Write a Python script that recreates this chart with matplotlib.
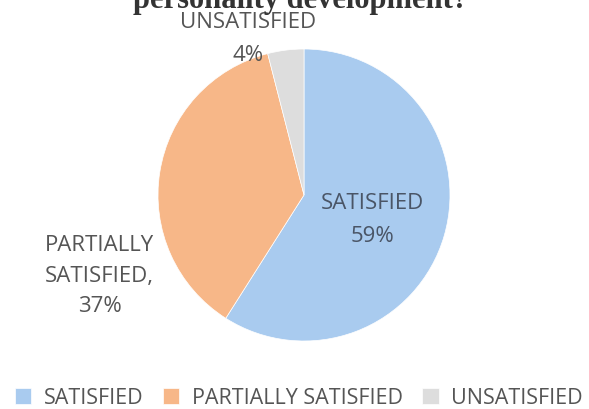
import matplotlib
matplotlib.use('Agg')
import matplotlib.pyplot as plt

# survey answers
categories = ['SATISFIED', 'PARTIALLY SATISFIED', 'UNSATISFIED']
shares = [59, 37, 4]
colors = ['#a9cbef', '#f7b788', '#dddddd']
title_line = 'personality development?'

plt.rcParams['font.family'] = ['Open Sans', 'DejaVu Sans']
text_color = '#555555'

fig = plt.figure(figsize=(5.89, 4.10), dpi=100)

# pie axes: centre at ~(304, 196) px, radius ~146 px
cx, cy, r = 304, 196, 146
ax = fig.add_axes([(cx - r) / 589, (410 - cy - r) / 410, 2 * r / 589, 2 * r / 410])
wedges, _ = ax.pie(shares, colors=colors, startangle=90, counterclock=False,
                   wedgeprops=dict(linewidth=0.5, edgecolor='white'))
ax.set_xlim(-1, 1)
ax.set_ylim(-1, 1)

# data labels, placed like the Excel original
ax.text(0.47, -0.165, f'{categories[0]}\n{shares[0]}%', ha='center', va='center',
        fontsize=16, color='#4a5566', linespacing=1.72)
ax.text(-1.40, -0.55, f'PARTIALLY\nSATISFIED,\n{shares[1]}%', ha='center', va='center',
        fontsize=16, color=text_color, linespacing=1.6)
ax.text(-0.38, 1.075, f'{categories[2]}\n{shares[2]}%', ha='center', va='center',
        fontsize=16, color=text_color, linespacing=1.72)

# title is cut off at the top of the picture, as in the source image
fig.text(301 / 589, 1 - 8 / 410, title_line, ha='center', va='baseline',
         fontsize=22, fontweight='bold', family='Liberation Serif', color='#333333')

fig.legend(wedges, categories, loc='center', bbox_to_anchor=(299 / 589, 11 / 410), ncol=3,
           frameon=False, fontsize=15.5, handlelength=0.75, handleheight=0.75,
           handletextpad=0.6, columnspacing=0.9, labelcolor=text_color,
           borderpad=0, borderaxespad=0)

fig.savefig('out.png', dpi=100)
